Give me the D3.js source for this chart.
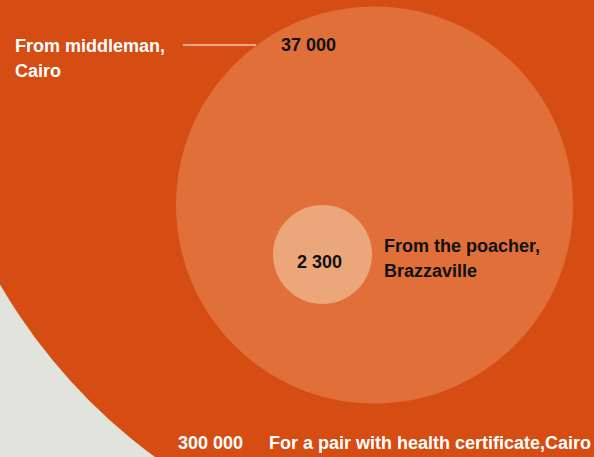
<!DOCTYPE html>
<html>
<head>
<meta charset="utf-8">
<script src="https://cdn.jsdelivr.net/npm/d3@7"></script>
<style>
  html, body { margin: 0; padding: 0; background: #e1e3dc; }
  svg { display: block; }
  text { font-family: "Liberation Sans Narrow", "Liberation Sans", sans-serif; font-weight: bold; }
</style>
</head>
<body>
<div id="chart"></div>
<script>
// price of a pair of tusks, USD
const labels = ["For a pair with health certificate,Cairo", "From middleman, Cairo", "From the poacher, Brazzaville"];
const values = [300000, 37000, 2300];
const valueLabels = ["300 000", "37 000", "2 300"];

const width = 594;
const height = 457;
const colors = ["#d64d14", "#e06f39", "#eba67a"];

// circle centres (layout, not data)
const centres = [[489, 1], [374.5, 205], [322.5, 254.5]];

const svg = d3.select("#chart").append("svg")
  .attr("width", width)
  .attr("height", height);

svg.append("rect")
  .attr("width", width)
  .attr("height", height)
  .attr("fill", "#e1e3dc");

const r = d3.scaleSqrt().domain([0, values[1]]).range([0, 198.5]);

svg.selectAll("circle.price")
  .data(values)
  .join("circle")
  .attr("class", "price")
  .attr("cx", (d, i) => centres[i][0])
  .attr("cy", (d, i) => centres[i][1])
  .attr("r", d => r(d))
  .attr("fill", (d, i) => colors[i]);

const fs = 18;

// big circle label, bottom
svg.append("text")
  .attr("x", 178).attr("y", 449)
  .attr("font-size", fs)
  .attr("fill", "#fff")
  .text(valueLabels[0]);
svg.append("text")
  .attr("x", 269).attr("y", 449)
  .attr("font-size", fs)
  .attr("fill", "#fff")
  .text(labels[0]);

// middleman
const mid = labels[1].split(" Cairo");
svg.append("text")
  .attr("x", 15).attr("y", 52)
  .attr("font-size", fs)
  .attr("fill", "#fff")
  .selectAll("tspan")
  .data([mid[0], "Cairo"])
  .join("tspan")
  .attr("x", 15)
  .attr("dy", (d, i) => i ? 25 : 0)
  .text(d => d);

svg.append("line")
  .attr("x1", 183).attr("x2", 256)
  .attr("y1", 45).attr("y2", 45)
  .attr("stroke", "#fff")
  .attr("stroke-width", 1.2);

svg.append("text")
  .attr("x", 281).attr("y", 51)
  .attr("font-size", fs)
  .attr("fill", "#111")
  .text(valueLabels[1]);

// poacher
svg.append("text")
  .attr("x", centres[2][0] - 3).attr("y", 268)
  .attr("text-anchor", "middle")
  .attr("font-size", fs)
  .attr("fill", "#111")
  .text(valueLabels[2]);

const poacher = labels[2].split(" Brazzaville");
svg.append("text")
  .attr("x", 384).attr("y", 252)
  .attr("font-size", fs)
  .attr("fill", "#111")
  .selectAll("tspan")
  .data([poacher[0], "Brazzaville"])
  .join("tspan")
  .attr("x", 384)
  .attr("dy", (d, i) => i ? 25 : 0)
  .text(d => d);
</script>
</body>
</html>
